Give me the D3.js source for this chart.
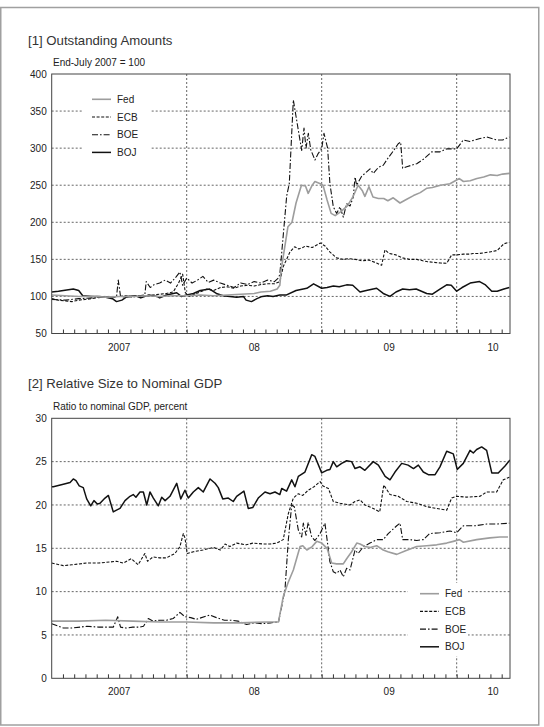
<!DOCTYPE html>
<html><head><meta charset="utf-8">
<script src="https://cdn.jsdelivr.net/npm/d3@7"></script>
<style>
html,body{margin:0;padding:0;background:#fff;}
svg{display:block;font-family:"Liberation Sans",Arial,sans-serif;}
</style></head>
<body>
<script>
// ---------- DATA ----------
const seriesNames = ["Fed","ECB","BOE","BOJ"];
const yearLabels = ["2007","08","09","10"];
const yearLabelPos = [2007.5, 2008.5, 2009.5, 2010.27];
const yearDividers = [2008, 2009, 2010];
const xDomain = [2007, 2010.395];

const idxTicks = [50,100,150,200,250,300,350,400];
const gdpTicks = [0,5,10,15,20,25,30];

// Panel 1: index, end-July 2007 = 100  ([decimal year, value])
const fedIndex = [[2007.00,102],[2007.10,101],[2007.20,100],[2007.30,100],[2007.40,99],[2007.50,100],[2007.60,100],[2007.70,101],[2007.80,100],[2007.90,101],[2008.00,101],[2008.10,102],[2008.20,101],[2008.30,102],[2008.40,103],[2008.50,104],[2008.55,106],[2008.62,107],[2008.67,110],[2008.69,115],[2008.70,136],[2008.75,194],[2008.78,200],[2008.81,226],[2008.85,250],[2008.88,249],[2008.90,239],[2008.93,250],[2008.95,255],[2008.99,252],[2009.01,250],[2009.04,230],[2009.07,212],[2009.10,209],[2009.14,214],[2009.19,222],[2009.23,234],[2009.27,250],[2009.30,243],[2009.32,235],[2009.35,248],[2009.38,234],[2009.42,232],[2009.46,232],[2009.49,229],[2009.53,233],[2009.58,226],[2009.63,231],[2009.68,236],[2009.73,240],[2009.78,246],[2009.82,247],[2009.88,250],[2009.95,252],[2010.02,259],[2010.05,255],[2010.10,256],[2010.15,259],[2010.20,261],[2010.25,264],[2010.30,263],[2010.34,265],[2010.39,266]];
const ecbIndex = [[2007.00,97],[2007.05,95],[2007.10,94],[2007.15,93],[2007.20,95],[2007.30,97],[2007.35,99],[2007.40,100],[2007.50,100],[2007.55,101],[2007.60,99],[2007.65,101],[2007.70,100],[2007.75,102],[2007.80,103],[2007.85,104],[2007.90,106],[2007.94,118],[2007.97,130],[2007.99,105],[2008.02,100],[2008.06,103],[2008.10,106],[2008.15,110],[2008.20,108],[2008.25,112],[2008.30,113],[2008.35,111],[2008.40,114],[2008.45,115],[2008.50,114],[2008.55,116],[2008.60,117],[2008.65,117],[2008.69,120],[2008.715,140],[2008.765,160],[2008.80,167],[2008.83,164],[2008.86,166],[2008.88,168],[2008.93,166],[2008.97,170],[2008.99,172],[2009.025,168],[2009.06,160],[2009.11,152],[2009.16,150],[2009.20,151],[2009.25,150],[2009.30,148],[2009.35,149],[2009.407,145],[2009.444,142],[2009.469,163],[2009.50,158],[2009.55,156],[2009.60,152],[2009.65,150],[2009.704,150],[2009.75,148],[2009.78,147],[2009.83,146],[2009.88,145],[2009.926,144.7],[2009.963,156],[2010.00,156],[2010.05,157],[2010.10,157],[2010.12,158],[2010.17,158],[2010.246,160],[2010.30,162],[2010.35,171],[2010.39,173]];
const boeIndex = [[2007.00,96],[2007.10,95],[2007.20,97],[2007.30,98],[2007.40,99],[2007.48,99],[2007.493,122],[2007.51,100],[2007.55,99],[2007.60,100],[2007.65,101],[2007.69,102],[2007.70,120],[2007.73,112],[2007.76,116],[2007.80,118],[2007.84,122],[2007.88,118],[2007.92,126],[2007.95,133],[2007.97,115],[2008.00,125],[2008.04,118],[2008.08,122],[2008.12,127],[2008.16,119],[2008.20,122],[2008.25,118],[2008.30,115],[2008.35,112],[2008.40,118],[2008.45,116],[2008.50,120],[2008.55,118],[2008.60,122],[2008.65,120],[2008.68,125],[2008.69,130],[2008.741,236],[2008.76,252],[2008.79,365],[2008.827,324],[2008.852,297],[2008.869,327],[2008.884,300],[2008.901,320],[2008.919,298],[2008.95,284],[2008.975,293],[2009.00,299],[2009.017,320],[2009.044,300],[2009.061,252],[2009.086,221],[2009.111,212],[2009.136,221],[2009.16,207],[2009.185,225],[2009.21,222],[2009.234,234],[2009.247,261],[2009.259,250],[2009.296,262],[2009.333,268],[2009.358,272],[2009.382,266],[2009.42,274],[2009.456,277],[2009.493,287],[2009.53,296],[2009.567,306],[2009.585,308],[2009.60,273],[2009.63,275],[2009.704,279],[2009.753,285],[2009.815,295],[2009.876,295],[2009.926,299],[2010.00,299],[2010.049,311],[2010.099,309],[2010.173,313],[2010.222,315],[2010.296,311],[2010.34,311],[2010.39,315]];
const bojIndex = [[2007.00,106],[2007.05,107],[2007.16,110],[2007.20,108],[2007.23,101],[2007.30,100],[2007.35,100],[2007.40,99],[2007.45,97],[2007.48,93],[2007.52,95],[2007.56,100],[2007.62,101],[2007.66,98],[2007.72,102],[2007.78,100],[2007.80,98],[2007.85,102],[2007.926,105],[2007.96,100],[2008.00,102],[2008.05,104],[2008.10,108],[2008.17,110],[2008.22,104],[2008.27,101],[2008.32,100],[2008.37,99],[2008.42,100],[2008.44,95],[2008.48,93],[2008.52,97],[2008.56,100],[2008.60,101],[2008.64,100],[2008.69,102],[2008.74,102],[2008.81,108],[2008.89,111],[2008.94,117],[2009.00,111],[2009.04,112],[2009.086,114],[2009.13,113],[2009.185,115.6],[2009.23,115],[2009.284,106],[2009.33,108],[2009.407,111],[2009.456,104],[2009.506,100],[2009.55,106],[2009.60,110],[2009.65,109],[2009.70,110],[2009.778,104],[2009.82,103],[2009.876,110],[2009.926,115.6],[2009.96,115],[2010.00,107],[2010.04,112],[2010.10,118],[2010.17,120],[2010.21,116],[2010.26,107],[2010.30,107],[2010.35,110],[2010.39,112]];

// Panel 2: ratio to nominal GDP, percent
const fedGdp = [[2007.00,6.6],[2007.20,6.6],[2007.40,6.7],[2007.60,6.6],[2007.80,6.5],[2008.00,6.5],[2008.20,6.4],[2008.40,6.4],[2008.60,6.5],[2008.68,6.5],[2008.715,9.4],[2008.75,11.0],[2008.79,12.5],[2008.84,15.2],[2008.86,15.3],[2008.89,14.8],[2008.93,15.2],[2008.963,15.8],[2009.00,15.6],[2009.04,15.0],[2009.074,13.3],[2009.11,13.2],[2009.16,13.2],[2009.185,13.8],[2009.222,14.6],[2009.26,15.6],[2009.284,15.5],[2009.32,15.2],[2009.36,15.1],[2009.407,15.3],[2009.456,14.8],[2009.49,14.6],[2009.556,14.3],[2009.617,14.7],[2009.704,15.2],[2009.778,15.3],[2009.852,15.4],[2009.926,15.6],[2009.975,15.8],[2010.02,16.0],[2010.05,15.7],[2010.148,16.0],[2010.246,16.2],[2010.32,16.3],[2010.38,16.3]];
const ecbGdp = [[2007.00,13.3],[2007.086,13.0],[2007.15,13.1],[2007.26,13.3],[2007.35,13.3],[2007.48,13.5],[2007.53,13.3],[2007.59,13.8],[2007.64,13.1],[2007.69,14.4],[2007.71,13.5],[2007.75,14.0],[2007.80,13.9],[2007.85,13.9],[2007.913,14.4],[2007.95,15.2],[2007.975,16.7],[2007.987,16.2],[2008.004,14.4],[2008.05,14.6],[2008.12,14.8],[2008.197,15.1],[2008.25,14.8],[2008.284,15.5],[2008.32,15.2],[2008.37,15.6],[2008.44,15.4],[2008.49,15.6],[2008.565,15.5],[2008.62,15.5],[2008.667,15.6],[2008.715,16.0],[2008.753,19.0],[2008.79,20.8],[2008.827,21.3],[2008.86,21.1],[2008.90,21.7],[2008.943,22.1],[2008.988,22.7],[2009.01,22.2],[2009.05,21.9],[2009.086,20.4],[2009.136,20.2],[2009.21,20.0],[2009.247,20.4],[2009.284,20.6],[2009.32,20.0],[2009.382,19.6],[2009.43,19.2],[2009.46,22.3],[2009.506,21.2],[2009.567,21.0],[2009.63,20.4],[2009.704,20.2],[2009.778,19.8],[2009.852,19.6],[2009.926,19.4],[2009.963,20.8],[2010.00,21.0],[2010.074,20.9],[2010.173,21.0],[2010.222,21.5],[2010.296,21.5],[2010.345,22.9],[2010.39,23.2]];
const boeGdp = [[2007.00,6.3],[2007.05,6.0],[2007.086,5.8],[2007.15,5.8],[2007.26,6.0],[2007.35,5.9],[2007.43,5.9],[2007.456,5.9],[2007.489,7.1],[2007.51,5.9],[2007.55,5.8],[2007.60,5.9],[2007.65,5.9],[2007.68,6.0],[2007.716,6.9],[2007.75,6.6],[2007.80,6.7],[2007.85,6.7],[2007.90,6.9],[2007.95,7.6],[2007.987,7.1],[2008.03,7.0],[2008.07,6.8],[2008.17,7.3],[2008.22,7.0],[2008.28,6.7],[2008.33,6.7],[2008.38,6.6],[2008.444,6.2],[2008.50,6.4],[2008.56,6.3],[2008.62,6.4],[2008.68,6.5],[2008.704,8.3],[2008.728,10.2],[2008.753,16.0],[2008.778,20.0],[2008.797,19.8],[2008.827,17.1],[2008.852,16.3],[2008.864,17.9],[2008.884,16.5],[2008.90,18.0],[2008.926,16.3],[2008.95,15.9],[2008.988,16.7],[2009.024,17.9],[2009.04,16.0],[2009.06,13.5],[2009.086,12.3],[2009.11,12.1],[2009.136,12.5],[2009.16,11.7],[2009.185,12.7],[2009.21,12.5],[2009.247,14.8],[2009.27,14.4],[2009.31,15.2],[2009.358,15.6],[2009.407,16.0],[2009.456,16.0],[2009.493,16.7],[2009.556,17.6],[2009.58,17.9],[2009.60,16.0],[2009.654,16.0],[2009.704,15.9],[2009.753,16.0],[2009.80,16.7],[2009.876,16.8],[2009.95,17.0],[2010.00,16.8],[2010.049,17.6],[2010.136,17.6],[2010.222,17.8],[2010.30,17.8],[2010.39,17.9]];
const bojGdp = [[2007.00,22.1],[2007.012,22.1],[2007.086,22.4],[2007.136,22.6],[2007.16,23.0],[2007.18,22.8],[2007.204,22.2],[2007.234,22.0],[2007.259,20.7],[2007.289,19.9],[2007.313,20.5],[2007.338,20.1],[2007.358,20.2],[2007.395,20.8],[2007.42,21.1],[2007.456,19.2],[2007.48,19.4],[2007.506,19.6],[2007.543,20.5],[2007.58,21.0],[2007.604,21.2],[2007.624,20.9],[2007.654,21.5],[2007.679,21.5],[2007.704,20.0],[2007.728,21.5],[2007.753,20.8],[2007.79,19.9],[2007.815,20.9],[2007.84,20.5],[2007.876,21.0],[2007.926,22.5],[2007.956,20.7],[2007.987,21.7],[2008.012,20.8],[2008.049,21.5],[2008.086,22.0],[2008.123,21.5],[2008.173,23.0],[2008.21,22.5],[2008.234,22.0],[2008.267,20.7],[2008.308,20.8],[2008.345,20.4],[2008.37,21.0],[2008.424,21.6],[2008.456,19.6],[2008.489,19.7],[2008.53,20.8],[2008.58,21.5],[2008.617,21.3],[2008.654,21.5],[2008.69,21.2],[2008.704,21.9],[2008.74,21.6],[2008.778,22.9],[2008.802,22.1],[2008.827,23.3],[2008.876,23.8],[2008.926,25.8],[2008.95,25.6],[2009.00,23.7],[2009.037,24.0],[2009.061,24.1],[2009.086,25.0],[2009.111,24.4],[2009.148,24.8],[2009.185,25.1],[2009.222,25.0],[2009.247,24.2],[2009.284,24.4],[2009.32,24.0],[2009.382,25.0],[2009.42,24.6],[2009.47,23.3],[2009.506,22.9],[2009.543,23.8],[2009.593,24.8],[2009.64,24.6],[2009.68,24.2],[2009.716,24.6],[2009.753,23.8],[2009.79,23.5],[2009.84,23.5],[2009.876,24.4],[2009.926,26.2],[2009.975,25.9],[2010.004,24.1],[2010.049,24.8],[2010.099,26.3],[2010.123,26.0],[2010.148,26.4],[2010.185,26.7],[2010.222,26.3],[2010.26,23.7],[2010.308,23.7],[2010.358,24.5],[2010.395,25.2]];

// ---------- STYLES ----------
const styles = {
  Fed: {stroke:"#9d9d9d", width:1.6, dash:null},
  ECB: {stroke:"#111", width:1.1, dash:"3,1.6"},
  BOE: {stroke:"#111", width:1.1, dash:"6,2,1.6,2"},
  BOJ: {stroke:"#111", width:1.5, dash:null}
};

const W = 544, H = 727;
const svg = d3.select("body").append("svg").attr("width", W).attr("height", H);

svg.append("rect").attr("x",0.75).attr("y",7.5).attr("width",538).attr("height",717.5)
  .attr("fill","none").attr("stroke","#a0a0a0").attr("stroke-width",1.5);

const x = d3.scaleLinear().domain(xDomain).range([51.7, 510]);

function panel(cfg) {
  const y = d3.scaleLinear().domain(cfg.domain).range([cfg.bottom, cfg.top]);
  const g = svg.append("g");
  const L = x.range()[0], R = x.range()[1];

  g.append("text").attr("x", cfg.titleX).attr("y", cfg.titleY)
    .attr("font-size", 13.2).attr("fill", "#333").text(cfg.title);
  g.append("text").attr("x", 53).attr("y", cfg.top - 8)
    .attr("font-size", 10).attr("fill", "#222").text(cfg.unit);

  g.selectAll(".grid").data(cfg.ticks.slice(1, -1)).join("line")
    .attr("x1", L).attr("x2", R).attr("y1", d => y(d)).attr("y2", d => y(d))
    .attr("stroke", "#555").attr("stroke-width", 0.9).attr("stroke-dasharray", "2,2");
  g.selectAll(".div").data(yearDividers).join("line")
    .attr("x1", d => x(d)).attr("x2", d => x(d)).attr("y1", cfg.top).attr("y2", cfg.bottom)
    .attr("stroke", "#555").attr("stroke-width", 0.9).attr("stroke-dasharray", "2,2");

  const yAxis = d3.axisLeft(y).tickValues(cfg.ticks).tickSize(0).tickPadding(5);
  const ya = g.append("g").attr("transform", `translate(${L},0)`).call(yAxis);
  ya.select(".domain").remove();
  ya.selectAll("text").attr("font-size", 10).attr("fill", "#222")
    .attr("font-family", "Liberation Sans, Arial, sans-serif");

  const months = d3.range(1, 41).map(i => 2007 + i / 12).filter(d => d < xDomain[1] - 0.01);
  const xAxis = d3.axisBottom(x).tickValues(months).tickSize(-4).tickFormat("");
  const xa = g.append("g").attr("transform", `translate(0,${cfg.bottom})`).call(xAxis);
  xa.select(".domain").remove();
  xa.selectAll("line").attr("stroke", "#333").attr("stroke-width", 1);

  g.selectAll(".yl").data(yearLabels).join("text")
    .attr("x", (d, i) => x(yearLabelPos[i])).attr("y", cfg.bottom + 17)
    .attr("text-anchor", "middle").attr("font-size", 10).attr("fill", "#222").text(d => d);

  const line = d3.line().x(d => x(d[0])).y(d => y(d[1]));
  const clipId = "clip" + cfg.id;
  svg.append("clipPath").attr("id", clipId).append("rect")
    .attr("x", L).attr("y", cfg.top).attr("width", R - L).attr("height", cfg.bottom - cfg.top);
  const sg = g.append("g").attr("clip-path", `url(#${clipId})`);
  ["ECB", "BOE", "BOJ", "Fed"].forEach(name => {
    const s = styles[name];
    sg.append("path").datum(cfg.data[name]).attr("d", line)
      .attr("fill", "none").attr("stroke", s.stroke).attr("stroke-width", s.width)
      .attr("stroke-dasharray", s.dash).attr("stroke-linejoin", "round");
  });

  g.append("rect").attr("x", L).attr("y", cfg.top).attr("width", R - L).attr("height", cfg.bottom - cfg.top)
    .attr("fill", "none").attr("stroke", "#444").attr("stroke-width", 1);

  const lg = g.append("g");
  lg.append("rect").attr("x", cfg.legend.bx).attr("y", cfg.legend.by)
    .attr("width", cfg.legend.bw).attr("height", cfg.legend.bh).attr("fill", "#fff");
  seriesNames.forEach((name, i) => {
    const s = styles[name];
    const yy = cfg.legend.y0 + i * 17.7;
    lg.append("line").attr("x1", cfg.legend.x0).attr("x2", cfg.legend.x0 + 19)
      .attr("y1", yy).attr("y2", yy).attr("stroke", s.stroke).attr("stroke-width", s.width)
      .attr("stroke-dasharray", s.dash);
    lg.append("text").attr("x", cfg.legend.x0 + 25).attr("y", yy).attr("dy", "0.35em")
      .attr("font-size", 10).attr("fill", "#222").text(name);
  });
}

panel({
  id: 1, title: "[1] Outstanding Amounts", titleX: 28, titleY: 45,
  unit: "End-July 2007 = 100", domain: [50, 400], ticks: idxTicks, top: 74, bottom: 333.5,
  data: {Fed: fedIndex, ECB: ecbIndex, BOE: boeIndex, BOJ: bojIndex},
  legend: {x0: 92, y0: 99.3, bx: 82, by: 89, bw: 68, bh: 72}
});
panel({
  id: 2, title: "[2] Relative Size to Nominal GDP", titleX: 28, titleY: 388,
  unit: "Ratio to nominal GDP, percent", domain: [0, 30], ticks: gdpTicks, top: 418.3, bottom: 678.3,
  data: {Fed: fedGdp, ECB: ecbGdp, BOE: boeGdp, BOJ: bojGdp},
  legend: {x0: 420, y0: 593.7, bx: 408, by: 583, bw: 60, bh: 73}
});
</script>
</body></html>
